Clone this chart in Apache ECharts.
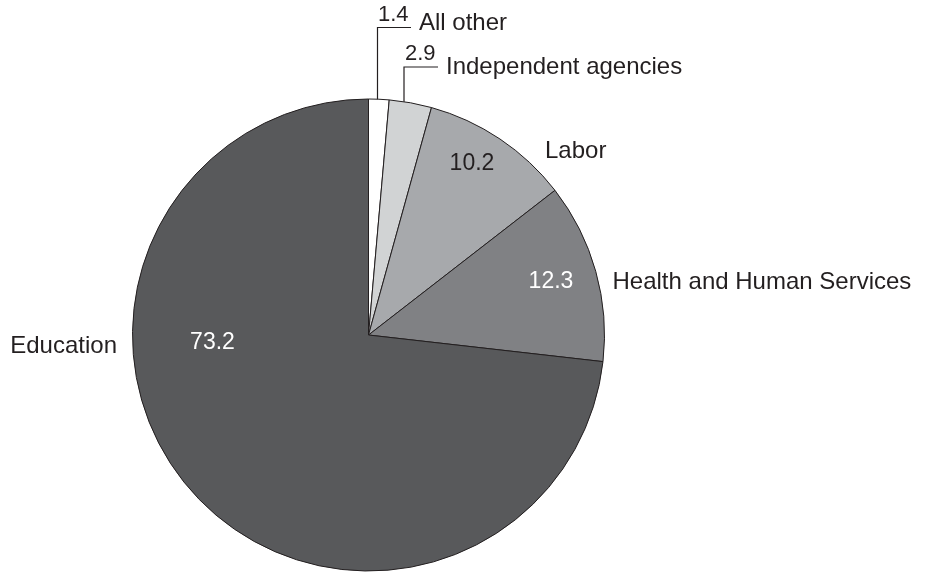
<!DOCTYPE html>
<html><head><meta charset="utf-8">
<script src="https://cdn.jsdelivr.net/npm/echarts@6/dist/echarts.min.js"></script>
<style>html,body{margin:0;padding:0;background:#fff}#c{width:929px;height:573px}</style>
</head><body><div id="c"></div>
<script>
// ---- data ----
const categories = ['All other', 'Independent agencies', 'Labor', 'Health and Human Services', 'Education'];
const shares = [1.4, 2.9, 10.2, 12.3, 73.2];
const sliceColors = ['#ffffff', '#d1d3d4', '#a7a9ac', '#808184', '#58595b'];
const valueTextColors = ['#231f20', '#231f20', '#231f20', '#ffffff', '#ffffff'];

// ---- label layout (positions only) ----
const valueLabelPos = [[378, 25.5], [405, 64.5], [472, 164], [551, 282], [212.5, 342.5]];
const leaderLines = [
  [[377.5, 107], [377.5, 27.5], [411, 27.5]],
  [[404, 119], [404, 67], [438, 67]],
  null, null, null
];
const nameLabelPos = [[419, 23.5, 'left'], [446, 67.5, 'left'], [545, 151.5, 'left'], [612.5, 282, 'left'], [117, 346.5, 'right']];

const FONT = 'Liberation Sans, Arial, Helvetica, sans-serif';
const INK = '#231f20';

const chart = echarts.init(document.getElementById('c'), null, {renderer: 'canvas'});
const pieBase = {
  type: 'pie', center: [368.5, 335], radius: 236, startAngle: 90, clockwise: true,
  avoidLabelOverlap: false, silent: true, animation: false
};
chart.setOption({
  backgroundColor: '#ffffff',
  animation: false,
  series: [
    Object.assign({}, pieBase, {
      itemStyle: {borderColor: INK, borderWidth: 1},
      data: shares.map((v, i) => ({
        name: categories[i], value: v,
        itemStyle: {color: sliceColors[i]},
        label: {color: valueTextColors[i], position: leaderLines[i] ? 'outside' : 'inside',
                fontSize: leaderLines[i] ? 22 : 23},
        labelLine: {show: !!leaderLines[i]}
      })),
      label: {show: true, formatter: p => p.value.toFixed(1), fontFamily: FONT, fontSize: 23,
              textBorderWidth: 0, textShadowBlur: 0},
      labelLine: {length: 10, length2: 10, lineStyle: {color: INK, width: 1.2}},
      labelLayout: p => {
        const i = p.dataIndex, pos = valueLabelPos[i], small = !!leaderLines[i];
        const r = {x: pos[0], y: pos[1], align: small ? 'left' : 'center', verticalAlign: small ? 'bottom' : 'middle'};
        if (small) r.labelLinePoints = leaderLines[i];
        return r;
      }
    }),
    Object.assign({}, pieBase, {
      itemStyle: {color: 'rgba(0,0,0,0)', borderWidth: 0},
      data: shares.map((v, i) => ({name: categories[i], value: v})),
      label: {show: true, position: 'outside', formatter: '{b}', fontFamily: FONT, fontSize: 24,
              color: INK, textBorderWidth: 0},
      labelLine: {show: false},
      labelLayout: p => {
        const pos = nameLabelPos[p.dataIndex];
        return {x: pos[0], y: pos[1], align: pos[2], verticalAlign: 'middle'};
      }
    })
  ]
});
</script></body></html>
